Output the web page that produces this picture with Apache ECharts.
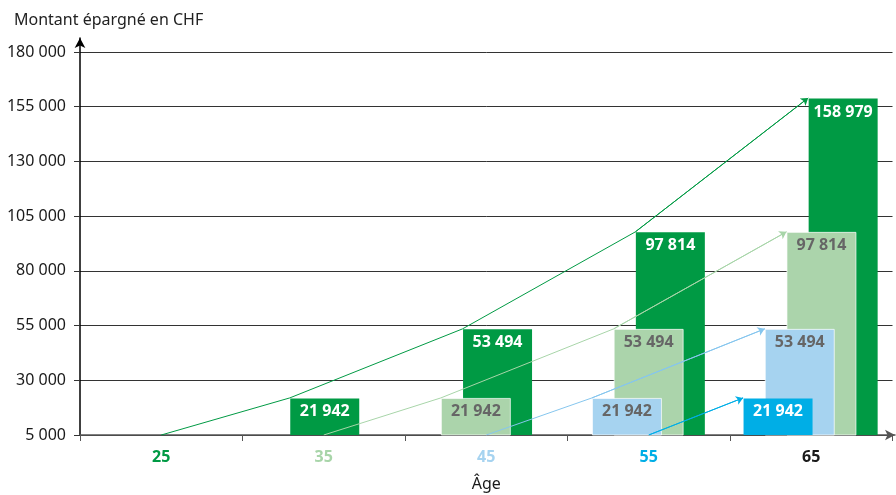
<!DOCTYPE html>
<html>
<head>
<meta charset="utf-8">
<script src="https://cdn.jsdelivr.net/npm/echarts@6/dist/echarts.min.js"></script>
<style>
  html, body { margin: 0; padding: 0; background: #fff; }
  #chart { width: 896px; height: 495px; }
</style>
</head>
<body>
<div id="chart"></div>
<script>
(function () {
    'use strict';

    // data
    var ages = ['25', '35', '45', '55', '65'];
    var ageColors = ['#009a44', '#a8d5a9', '#a6d3f0', '#00aee6', '#1a1a1a'];
    var from25 = [null, 21942, 53494, 97814, 158979];
    var from35 = [null, null, 21942, 53494, 97814];
    var from45 = [null, null, null, 21942, 53494];
    var from55 = [null, null, null, null, 21942];
    var yMin = 5000, yMax = 180000, yStep = 25000;

    // layout
    var FONT = '"Noto Sans", sans-serif';
    var G0 = { left: 80, width: 812.5, top: 52, bottom: 60 };   // visible axes
    var G1 = { left: 33, width: 864, top: 52, bottom: 60 };     // bars + arrows
    var BAR_W = 70, BAR_GAP = -0.69;
    var band0 = G0.width / ages.length;
    var band1 = G1.width / ages.length;
    var step = BAR_W * (1 + BAR_GAP);
    var group = BAR_W * 4 + 3 * BAR_W * BAR_GAP;

    function fmt(v) {
        return String(v).replace(/\B(?=(\d{3})+(?!\d))/g, ' ');
    }
    // left edge of a bar (series position k) in grid1 index units
    function barLeft(k, i) { return i + (-group / 2 + k * step) / band1; }
    // centre of a visible age label, in grid1 index units
    function labelX(j) { return (G0.left + band0 * (j + 0.5) - G1.left) / band1 - 0.5; }

    var cohorts = [
        { name: 'dès 55', data: from55, start: 3, color: '#00aee6', line: '#00aee6', text: '#fff', border: 'transparent' },
        { name: 'dès 45', data: from45, start: 2, color: '#a6d3f0', line: '#86c6ee', text: '#666', border: 'rgba(255,255,255,0.7)' },
        { name: 'dès 35', data: from35, start: 1, color: '#abd4ab', line: '#a8d5a9', text: '#666', border: 'rgba(255,255,255,0.7)' },
        { name: 'dès 25', data: from25, start: 0, color: '#009a44', line: '#009a44', text: '#fff', border: 'transparent' }
    ];

    var series = [];
    cohorts.forEach(function (c, k) {
        series.push({
            type: 'bar',
            name: c.name,
            xAxisIndex: 1, yAxisIndex: 1,
            data: c.data,
            barWidth: BAR_W,
            barGap: (BAR_GAP * 100) + '%',
            z: 6 - k,
            itemStyle: { color: c.color, borderColor: c.border, borderWidth: 1 },
            label: {
                show: true, position: 'insideTop', distance: 6,
                color: c.text, fontFamily: FONT, fontSize: 16, fontWeight: 'bold',
                formatter: function (p) { return fmt(p.value); }
            },
            animation: false
        });
        var pts = [[labelX(c.start), yMin]];
        c.data.forEach(function (v, i) {
            if (v != null) pts.push([barLeft(k, i), v]);
        });
        series.push({
            type: 'line',
            xAxisIndex: 2, yAxisIndex: 1,
            data: pts,
            symbol: 'none',
            lineStyle: { color: c.line, width: 1 },
            z: 10,
            animation: false
        });
        series.push({
            type: 'lines',
            coordinateSystem: 'cartesian2d',
            xAxisIndex: 2, yAxisIndex: 1,
            symbol: ['none', 'arrow'],
            symbolSize: 7,
            data: [{ coords: pts.slice(-2) }],
            lineStyle: { color: c.line, width: 1, opacity: 1 },
            z: 10,
            animation: false
        });
    });

    var chart = echarts.init(document.getElementById('chart'));
    chart.setOption({
        animation: false,
        title: {
            text: 'Montant épargné en CHF', left: 9, top: 7,
            textStyle: { fontFamily: FONT, fontSize: 16, fontWeight: 'normal', color: '#222' }
        },
        grid: [
            { left: G0.left, width: G0.width, top: G0.top, bottom: G0.bottom, outerBoundsMode: 'none' },
            { left: G1.left, width: G1.width, top: G1.top, bottom: G1.bottom, outerBoundsMode: 'none' },
            { left: G0.left, right: 1, top: 38, bottom: G0.bottom, outerBoundsMode: 'none' }
        ],
        xAxis: [
            {
                type: 'category', gridIndex: 0, data: ages,
                name: 'Âge', nameLocation: 'middle', nameGap: 41, nameMoveOverlap: false,
                nameTextStyle: { fontFamily: FONT, fontSize: 16, color: '#1a1a1a' },
                axisLine: { show: false },
                axisTick: { show: true, length: 6, lineStyle: { color: '#555' } },
                axisLabel: {
                    margin: 14, fontFamily: FONT, fontSize: 16, fontWeight: 'bold',
                    color: function (v, i) { return ageColors[i]; }
                }
            },
            {
                type: 'category', gridIndex: 1, data: ages, show: false
            },
            {
                type: 'value', gridIndex: 1, min: -0.5, max: ages.length - 0.5, show: false
            },
            {
                type: 'value', gridIndex: 2, min: 0, max: 1,
                axisLine: { show: true, onZero: false, symbol: ['none', 'arrow'], symbolSize: [8, 10],
                    lineStyle: { color: '#555', width: 1.5 } },
                axisTick: { show: false }, axisLabel: { show: false }, splitLine: { show: false }
            }
        ],
        yAxis: [
            {
                type: 'value', gridIndex: 0, min: yMin, max: yMax, interval: yStep,
                axisLine: { show: false },
                axisTick: { show: true, length: 6, lineStyle: { color: '#333' } },
                axisLabel: {
                    margin: 14, fontFamily: FONT, fontSize: 16, color: '#1a1a1a',
                    formatter: fmt
                },
                splitLine: { show: true, lineStyle: { color: '#333', width: 1 } }
            },
            {
                type: 'value', gridIndex: 1, min: yMin, max: yMax, show: false
            },
            {
                type: 'value', gridIndex: 2, min: 0, max: 1,
                axisLine: { show: true, onZero: false, symbol: ['none', 'arrow'], symbolSize: [8, 10],
                    lineStyle: { color: '#000', width: 1.5 } },
                axisTick: { show: false }, axisLabel: { show: false }, splitLine: { show: false }
            }
        ],
        series: series
    });

    window.addEventListener('resize', function () { chart.resize(); });
})();
</script>
</body>
</html>
